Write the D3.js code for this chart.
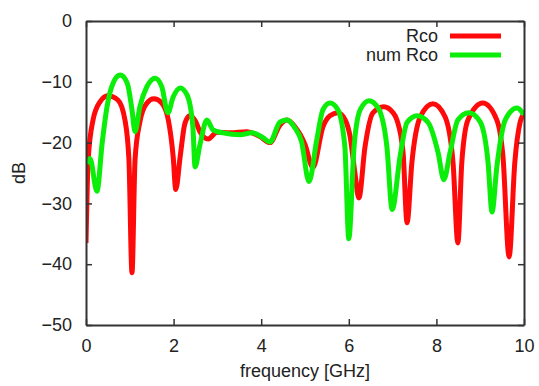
<!DOCTYPE html>
<html>
<head>
<meta charset="utf-8">
<script src="https://cdn.jsdelivr.net/npm/d3@7"></script>
<style>
  body { margin: 0; background: #fff; }
  text { font-family: "Liberation Sans", Arial, sans-serif; fill: #222; }
</style>
</head>
<body>
<svg id="chart" width="539" height="386"></svg>
<script>
// measured Rco [GHz, dB]
const rcoFreq = [0, 0.05, 0.16, 0.32, 0.5, 0.73, 0.89, 0.98, 1.05, 1.12, 1.23, 1.39, 1.55, 1.73, 1.88, 1.99, 2.05, 2.15, 2.26, 2.37, 2.5, 2.6, 2.79, 2.99, 3.29, 3.67, 3.97, 4.2, 4.43, 4.59, 4.77, 5.0, 5.18, 5.41, 5.57, 5.75, 5.92, 6.03, 6.14, 6.23, 6.37, 6.55, 6.8, 7.0, 7.1, 7.24, 7.33, 7.44, 7.63, 7.92, 8.2, 8.38, 8.49, 8.58, 8.72, 9.06, 9.38, 9.52, 9.66, 9.79, 9.91, 10];
const rcoDb = [-36.5, -22.8, -16.3, -13.3, -12.3, -13, -16.3, -22.8, -41.4, -22.8, -16.6, -13.5, -12.8, -13.5, -16.3, -22.3, -27.7, -22.3, -16.8, -15.6, -16.5, -18.2, -19.4, -18.3, -18.4, -18.2, -19, -20, -17.1, -16.3, -17.4, -20.3, -24.1, -17.4, -15.6, -15.1, -16.3, -19, -25, -29.1, -20.7, -15.1, -14.1, -15, -16.3, -21.7, -33.2, -23.3, -15.8, -13.6, -15.8, -23.3, -36.5, -23.3, -16.3, -13.5, -16.3, -22.3, -38.8, -23.3, -16.7, -15.3];

// simulated num Rco [GHz, dB]
const numFreq = [0.03, 0.09, 0.25, 0.37, 0.48, 0.62, 0.78, 0.94, 1.05, 1.12, 1.23, 1.39, 1.58, 1.73, 1.87, 1.99, 2.15, 2.31, 2.44, 2.49, 2.6, 2.76, 2.9, 3.13, 3.52, 3.79, 4.04, 4.2, 4.43, 4.59, 4.77, 4.92, 5.09, 5.27, 5.41, 5.57, 5.75, 5.91, 6.0, 6.12, 6.26, 6.46, 6.67, 6.87, 6.99, 7.17, 7.33, 7.56, 7.81, 8.04, 8.17, 8.31, 8.49, 8.74, 9.0, 9.18, 9.27, 9.38, 9.57, 9.84, 10];
const numDb = [-23.5, -22.6, -28, -20, -14.1, -10.2, -8.9, -10.2, -14.6, -18.2, -14.1, -10.8, -9.4, -10.8, -15.1, -12.5, -11, -12.2, -17.4, -24, -20.4, -16.3, -17.9, -18.4, -18.7, -18.4, -19.2, -19.9, -16.6, -16.3, -17.6, -19.8, -26.4, -19.5, -14.6, -13.5, -14.6, -20.7, -35.8, -20.7, -14.6, -13.1, -14.3, -20.7, -31, -22.3, -16.7, -15.6, -16.7, -21.7, -26.1, -21.7, -16.3, -15.1, -16.6, -23.3, -31.4, -24, -16.3, -14.3, -15.4];

const xTicks = [0, 2, 4, 6, 8, 10];
const yTicks = [0, -10, -20, -30, -40, -50];
const seriesNames = ["Rco", "num Rco"];
const seriesColors = ["#ff0a0a", "#0aee0a"];

const margin = {top: 21, right: 15, bottom: 61, left: 86};
const width = 539, height = 386;

let svg = d3.select("#chart");
let x = d3.scaleLinear().domain([0, 10]).range([margin.left, width - margin.right]);
let y = d3.scaleLinear().domain([-50, 0]).range([height - margin.bottom, margin.top]);

let series = [
    rcoFreq.map((f, i) => ({f: f, v: rcoDb[i]})),
    numFreq.map((f, i) => ({f: f, v: numDb[i]}))
];

let line = d3.line()
    .x(d => x(d.f))
    .y(d => y(d.v))
    .curve(d3.curveMonotoneX);

svg.append("defs").append("clipPath").attr("id", "clip")
    .append("rect")
    .attr("x", x(0)).attr("y", y(0))
    .attr("width", x(10) - x(0)).attr("height", y(-50) - y(0));

svg.append("g")
    .attr("clip-path", "url(#clip)")
    .selectAll("path")
    .data(series)
    .join("path")
    .attr("d", line)
    .attr("fill", "none")
    .attr("stroke", (d, i) => seriesColors[i])
    .attr("stroke-width", 5);

// frame + inward ticks on all sides
let axisColor = "#333";
let tickLen = 6;
let axes = [
    {axis: d3.axisBottom(x).tickValues(xTicks), t: "translate(0," + y(-50) + ")", labels: true},
    {axis: d3.axisTop(x).tickValues(xTicks), t: "translate(0," + y(0) + ")", labels: false},
    {axis: d3.axisLeft(y).tickValues(yTicks), t: "translate(" + x(0) + ",0)", labels: true},
    {axis: d3.axisRight(y).tickValues(yTicks), t: "translate(" + x(10) + ",0)", labels: false}
];
axes.forEach(a => {
    let g = svg.append("g")
        .attr("transform", a.t)
        .call(a.axis.tickSizeInner(-tickLen).tickSizeOuter(0).tickPadding(tickLen + 8));
    g.select(".domain").attr("stroke", axisColor).attr("stroke-width", 2);
    g.selectAll(".tick line").attr("stroke", axisColor).attr("stroke-width", 1.5);
    if (a.labels) {
        g.selectAll(".tick text")
            .attr("fill", "#222")
            .style("font-size", "18px")
            .style("font-family", "Liberation Sans, Arial, sans-serif");
    } else {
        g.selectAll(".tick text").remove();
    }
});

// axis titles
svg.append("text")
    .attr("x", x(5))
    .attr("y", 377)
    .attr("text-anchor", "middle")
    .style("font-size", "18px")
    .text("frequency [GHz]");

svg.append("text")
    .attr("transform", "translate(25," + y(-25) + ") rotate(-90)")
    .attr("text-anchor", "middle")
    .style("font-size", "18px")
    .text("dB");

// legend
let legend = svg.append("g")
    .selectAll("g")
    .data(seriesNames)
    .join("g")
    .attr("transform", (d, i) => "translate(0," + (36 + i * 19) + ")");
legend.append("text")
    .attr("x", 438)
    .attr("dy", "0.35em")
    .attr("text-anchor", "end")
    .style("font-size", "18px")
    .text(d => d);
legend.append("line")
    .attr("x1", 450).attr("x2", 501)
    .attr("stroke", (d, i) => seriesColors[i])
    .attr("stroke-width", 5);
</script>
</body>
</html>
